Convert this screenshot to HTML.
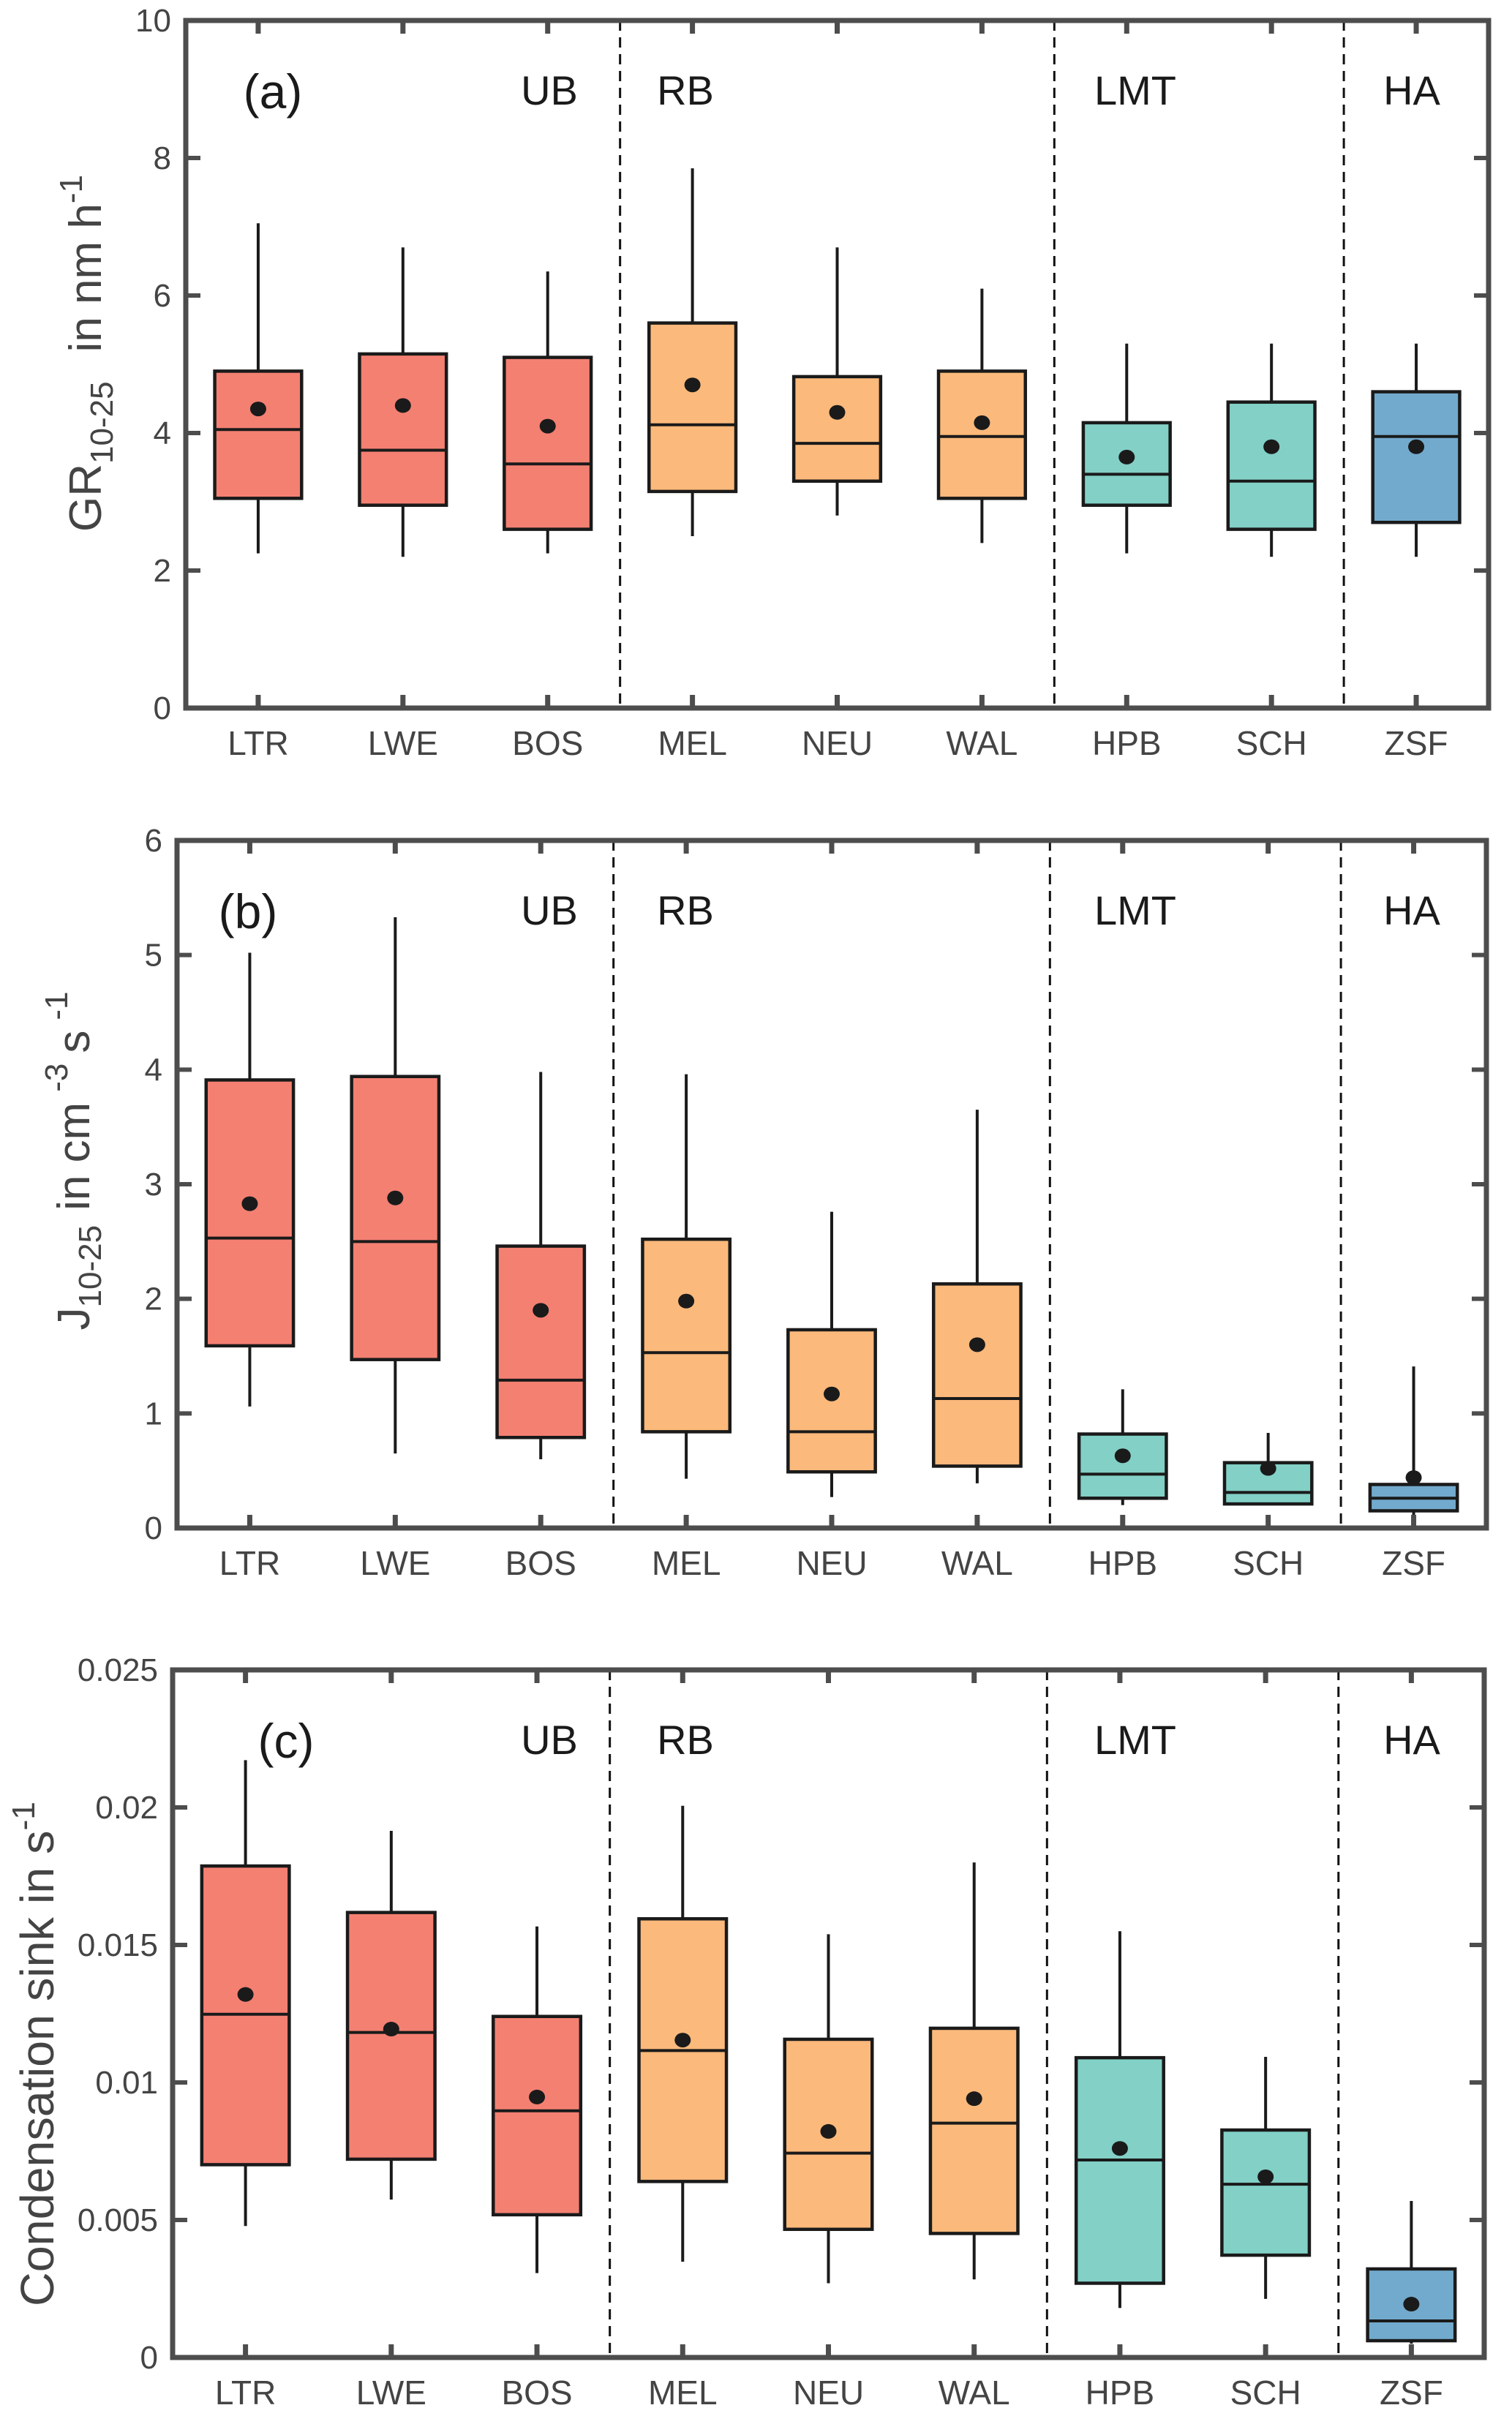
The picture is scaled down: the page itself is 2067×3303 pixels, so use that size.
<!DOCTYPE html>
<html><head><meta charset="utf-8"><style>
html,body{margin:0;padding:0;background:#fff;}
svg{display:block;font-family:"Liberation Sans",Arial,sans-serif;}
</style></head><body>
<svg id="fig" width="2067" height="3303" viewBox="0 0 2067 3303" xmlns="http://www.w3.org/2000/svg"></svg>
<script>
const categories = ["LTR","LWE","BOS","MEL","NEU","WAL","HPB","SCH","ZSF"];
const groupLabels = ["UB","RB","LMT","HA"];
const groupCols = [["#f48072","#f48072","#f48072"],["#fbb97b","#fbb97b","#fbb97b"],["#82d0c6","#82d0c6"],["#72aacd"]];
// Panel a: GR
const aWhiskLo = [2.25,2.2,2.25,2.5,2.8,2.4,2.25,2.2,2.2];
const aQ1      = [3.05,2.95,2.6,3.15,3.3,3.05,2.95,2.6,2.7];
const aMed     = [4.05,3.75,3.55,4.12,3.85,3.95,3.4,3.3,3.95];
const aQ3      = [4.9,5.15,5.1,5.6,4.82,4.9,4.15,4.45,4.6];
const aWhiskHi = [7.05,6.7,6.35,7.85,6.7,6.1,5.3,5.3,5.3];
const aMean    = [4.35,4.4,4.1,4.7,4.3,4.15,3.65,3.8,3.8];
const aTicks   = ["0","2","4","6","8","10"];
// Panel b: J
const bWhiskLo = [1.06,0.65,0.6,0.43,0.27,0.39,0.2,0.2,0.1];
const bQ1      = [1.59,1.47,0.79,0.84,0.49,0.54,0.26,0.21,0.15];
const bMed     = [2.53,2.5,1.29,1.53,0.84,1.13,0.47,0.31,0.26];
const bQ3      = [3.91,3.94,2.46,2.52,1.73,2.13,0.82,0.57,0.38];
const bWhiskHi = [5.02,5.33,3.98,3.96,2.76,3.65,1.21,0.83,1.41];
const bMean    = [2.83,2.88,1.9,1.98,1.17,1.6,0.63,0.52,0.44];
const bTicks   = ["0","1","2","3","4","5","6"];
// Panel c: CS
const cWhiskLo = [0.00478,0.00574,0.00307,0.00348,0.0027,0.00284,0.0018,0.00213,0.0005];
const cQ1      = [0.00701,0.00721,0.00519,0.0064,0.00466,0.00451,0.0027,0.00372,0.00061];
const cMed     = [0.01248,0.01182,0.00897,0.01116,0.00743,0.00852,0.00718,0.0063,0.00133];
const cQ3      = [0.01787,0.01618,0.0124,0.01595,0.01157,0.01197,0.0109,0.00827,0.00322];
const cWhiskHi = [0.02172,0.01915,0.01567,0.02006,0.01539,0.018,0.0155,0.01093,0.00569];
const cMean    = [0.0132,0.01194,0.00947,0.01154,0.00822,0.00941,0.0076,0.00657,0.00194];
const cTicks   = ["0","0.005","0.01","0.015","0.02","0.025"];

const NS="http://www.w3.org/2000/svg";
const svg=document.getElementById('fig');
function mk(tag,attrs,parent){const e=document.createElementNS(NS,tag);for(const k in attrs)e.setAttribute(k,attrs[k]);(parent||svg).appendChild(e);return e;}
const colors=[].concat(...groupCols);
const bounds=[3,6,8];
const groupCenters=[[751,124],[937,124],[1552,124],[1930,124]];

function panel(p){
  const g=mk('g',{});
  
  
  const L=p.L,R=p.R,T=p.T,B=p.B,w=(R-L)/9;
  const y=v=>B-(v-p.min)/(p.max-p.min)*(B-T);
  const x=i=>L+(i+0.5)*w;
  // dashed separators
  bounds.forEach((bd,k)=>{const l=mk('line',{x1:L+bd*w,x2:L+bd*w,y1:T,y2:B,stroke:'#111','stroke-width':3,'stroke-dasharray':'14 9'},g);
    
    });
  // group labels
  groupLabels.forEach((t,k)=>{const e=mk('text',{x:groupCenters[k][0],y:T+115,'text-anchor':'middle','font-size':56,fill:'#1a1a1a'},g);e.textContent=t;
    
    });
  const pl=mk('text',{x:L+p.lx,y:T+120,'text-anchor':'middle','font-size':66,fill:'#1a1a1a'},g);pl.textContent='('+p.id+')';
  
  
  // boxes
  categories.forEach((c,i)=>{
    const bg=mk('g',{},g);
    
    
    const cx=x(i),hw=w*0.3;
    mk('line',{x1:cx,x2:cx,y1:y(p.hi[i]),y2:y(p.q3[i]),stroke:'#1a1a1a','stroke-width':4},bg);
    mk('line',{x1:cx,x2:cx,y1:y(p.q1[i]),y2:y(p.lo[i]),stroke:'#1a1a1a','stroke-width':4},bg);
    mk('rect',{x:cx-hw,y:y(p.q3[i]),width:2*hw,height:y(p.q1[i])-y(p.q3[i]),fill:colors[i],stroke:'#1a1a1a','stroke-width':4.5},bg);
    mk('line',{x1:cx-hw,x2:cx+hw,y1:y(p.med[i]),y2:y(p.med[i]),stroke:'#1a1a1a','stroke-width':4},bg);
    mk('ellipse',{cx:cx,cy:y(p.mean[i]),rx:11,ry:10,fill:'#1a1a1a'},bg);
    const t=mk('text',{x:cx,y:B+64,'text-anchor':'middle','font-size':46,fill:'#444'},g);t.textContent=c;
    
    
    mk('line',{x1:cx,x2:cx,y1:B,y2:B-18,stroke:'#4d4d4d','stroke-width':7},g);
    mk('line',{x1:cx,x2:cx,y1:T,y2:T+18,stroke:'#4d4d4d','stroke-width':7},g);
  });
  // y ticks
  p.ticks.forEach(t=>{const v=parseFloat(t),yy=y(v);
    mk('line',{x1:L,x2:L+20,y1:yy,y2:yy,stroke:'#4d4d4d','stroke-width':6},g);
    mk('line',{x1:R,x2:R-20,y1:yy,y2:yy,stroke:'#4d4d4d','stroke-width':6},g);
    const e=mk('text',{x:L-20,y:yy+15,'text-anchor':'end','font-size':44,fill:'#444'},g);e.textContent=t;
    
    });
  const ax=mk('rect',{x:L,y:T,width:R-L,height:B-T,fill:'none',stroke:'#4d4d4d','stroke-width':7},g);
  
  
  return g;
}
panel({id:'a',L:254,R:2035,T:28,B:968,min:0,max:10,lx:119,lo:aWhiskLo,q1:aQ1,med:aMed,q3:aQ3,hi:aWhiskHi,mean:aMean,ticks:aTicks});
panel({id:'b',L:242,R:2032,T:1149,B:2089,min:0,max:6,lx:97,lo:bWhiskLo,q1:bQ1,med:bMed,q3:bQ3,hi:bWhiskHi,mean:bMean,ticks:bTicks});
panel({id:'c',L:236,R:2029,T:2283,B:3223,min:0,max:0.025,lx:155,lo:cWhiskLo,q1:cQ1,med:cMed,q3:cQ3,hi:cWhiskHi,mean:cMean,ticks:cTicks});
</script>
<svg style="position:absolute;left:0;top:0" width="2067" height="3303" xmlns="http://www.w3.org/2000/svg" font-family="Liberation Sans, Arial, sans-serif">
<text transform="translate(138,483) rotate(-90)" text-anchor="middle" font-size="62" fill="#444">GR<tspan font-size="44" dy="16">10-25</tspan><tspan dy="-16" dx="40">in nm h</tspan><tspan font-size="44" dy="-26">-1</tspan></text>
<text transform="translate(122,1587) rotate(-90)" text-anchor="middle" font-size="62" fill="#444">J<tspan font-size="44" dy="16">10-25</tspan><tspan dy="-16" dx="20">in cm</tspan><tspan font-size="44" dy="-30" dx="14">-3</tspan><tspan dy="30" dx="14">s</tspan><tspan font-size="44" dy="-30" dx="14">-1</tspan></text>
<text transform="translate(73,2808) rotate(-90)" text-anchor="middle" font-size="64" fill="#444" textLength="690" lengthAdjust="spacingAndGlyphs">Condensation sink in s<tspan font-size="44" dy="-26">-1</tspan></text>
</svg>
</body></html>
